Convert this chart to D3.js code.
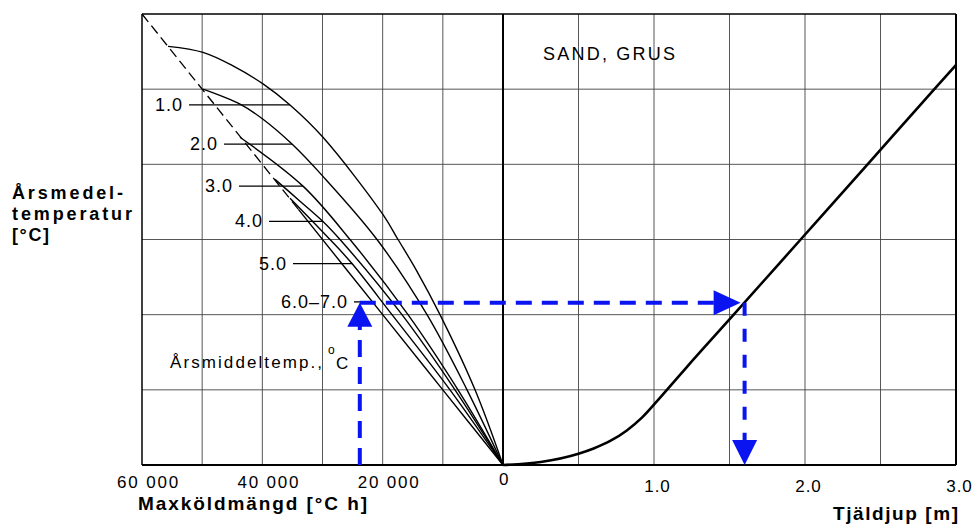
<!DOCTYPE html>
<html>
<head>
<meta charset="utf-8">
<script src="https://cdn.jsdelivr.net/npm/d3@7"></script>
<style>
body { margin: 0; background: #fff; }
text { font-family: "Liberation Sans", Arial, sans-serif; fill: #000; }
</style>
</head>
<body>
<script>
// left half: maxköldmängd [°C h] against the shared vertical (grid rows, no labels)
var curveNames = ['1.0', '2.0', '3.0', '4.0', '5.0', '6.0–7.0'];
var curve10 = [[55680,5.57],[49860,5.49],[44870,5.31],[39890,5.07],[35400,4.79],[29920,4.36],[19940,3.33],[17450,3.0],[14460,2.6],[10470,2.0],[4650,1.0],[0,0]];
var curve20 = [[49860,5.0],[43710,4.8],[39890,4.6],[35070,4.27],[29920,3.84],[20940,3.0],[12630,2.0],[5980,1.0],[0,0]];
var curve30 = [[43710,4.36],[33240,3.71],[25430,3.0],[15790,2.0],[7480,1.0],[0,0]];
var curve40 = [[37900,3.8],[33740,3.51],[29920,3.24],[27090,3.0],[16790,2.0],[7980,1.0],[0,0]];
var curve50 = [[35400,3.55],[28750,3.0],[25100,2.68],[18450,2.0],[8810,1.0],[0,0]];
var curve67 = [[34000,3.4],[20000,2.0],[10000,1.0],[0,0]];
var pointerY = [4.79, 4.27, 3.71, 3.24, 2.68, 2.17];
var dashedLine = [[60000,6],[34000,3.4]];

// right half: tjäldjup [m]
var depthCurve = [[0,0],[0.25,0.04],[0.5,0.15],[0.6,0.22],[0.71,0.32],[0.82,0.46],[0.92,0.63],[1.02,0.85],[1.12,1.08],[1.22,1.31],[1.51,1.96],[1.98,3.02],[2.41,3.99],[2.87,5.03],[3.0,5.32]];

var leftTicks = [60000, 40000, 20000, 0];
var leftTickLabels = ['60 000', '40 000', '20 000', '0'];
var rightTicks = [1, 2, 3];
var rightTickLabels = ['1.0', '2.0', '3.0'];

// the worked example (blue arrows)
var exFreeze = 23800;
var exLevel = 2.16;
var exDepth = 1.6;

var curves = [curve10, curve20, curve30, curve40, curve50, curve67];

var svg = d3.select('body').append('svg').attr('width', 972).attr('height', 527);

var xL = d3.scaleLinear().domain([60000, 0]).range([142, 503]);
var xR = d3.scaleLinear().domain([0, 3]).range([503, 956]);
var y = d3.scaleLinear().domain([0, 6]).range([465, 14]);

// grid
var grid = svg.append('g').attr('stroke', '#444').attr('stroke-width', 0.9);
grid.selectAll('.gl').data(d3.range(10000, 60000, 10000)).enter().append('line')
    .attr('x1', d => xL(d)).attr('x2', d => xL(d)).attr('y1', y(0)).attr('y2', y(6));
grid.selectAll('.gr').data(d3.range(0.5, 3, 0.5)).enter().append('line')
    .attr('x1', d => xR(d)).attr('x2', d => xR(d)).attr('y1', y(0)).attr('y2', y(6));
grid.selectAll('.gh').data(d3.range(1, 6)).enter().append('line')
    .attr('x1', xL(60000)).attr('x2', xR(3)).attr('y1', d => y(d)).attr('y2', d => y(d));

// frame
svg.append('line').attr('x1', xL(60000)).attr('x2', xR(3)).attr('y1', y(6)).attr('y2', y(6)).attr('stroke', '#000').attr('stroke-width', 1.5);
svg.append('line').attr('x1', xL(60000)).attr('x2', xL(60000)).attr('y1', y(6)).attr('y2', y(0)).attr('stroke', '#000').attr('stroke-width', 1.5);
svg.append('line').attr('x1', xR(3)).attr('x2', xR(3)).attr('y1', y(6)).attr('y2', y(0)).attr('stroke', '#000').attr('stroke-width', 2);
svg.append('line').attr('x1', xL(60000)).attr('x2', xR(3)).attr('y1', y(0)).attr('y2', y(0)).attr('stroke', '#000').attr('stroke-width', 2.2);
svg.append('line').attr('x1', xR(0)).attr('x2', xR(0)).attr('y1', y(6)).attr('y2', y(0)).attr('stroke', '#000').attr('stroke-width', 2);

// curves, left half
var lineL = d3.line().x(d => xL(d[0])).y(d => y(d[1])).curve(d3.curveCatmullRom.alpha(0.5));
svg.append('path').attr('d', d3.line().x(d => xL(d[0])).y(d => y(d[1]))(dashedLine))
    .attr('fill', 'none').attr('stroke', '#000').attr('stroke-width', 1.3).attr('stroke-dasharray', '10,5');
svg.selectAll('.curve').data(curves).enter().append('path')
    .attr('d', d => lineL(d)).attr('fill', 'none').attr('stroke', '#000').attr('stroke-width', 1.4);

// pointer lines and labels
function xAt(c, v) {
    for (var i = 0; i < c.length - 1; i++) {
        if (v <= c[i][1] && v >= c[i + 1][1]) {
            var t = (c[i][1] - v) / (c[i][1] - c[i + 1][1]);
            return c[i][0] + t * (c[i + 1][0] - c[i][0]);
        }
    }
    return c[0][0];
}
var labelEnd = [183, 218, 233, 263, 287, 348];
curveNames.forEach(function (name, i) {
    var py = y(pointerY[i]);
    svg.append('line').attr('x1', labelEnd[i] + 6).attr('x2', xL(xAt(curves[i], pointerY[i])))
        .attr('y1', py).attr('y2', py).attr('stroke', '#000').attr('stroke-width', 1.3);
    svg.append('text').attr('x', labelEnd[i]).attr('y', py + 6).attr('text-anchor', 'end')
        .attr('font-size', 18).attr('letter-spacing', 1).text(name);
});

// right curve
svg.append('path').attr('d', d3.line().x(d => xR(d[0])).y(d => y(d[1])).curve(d3.curveMonotoneX)(depthCurve))
    .attr('fill', 'none').attr('stroke', '#000').attr('stroke-width', 2.6);

// blue example arrows
var blue = '#0a14f0';
var bx = xL(exFreeze), by = y(exLevel), dx = xR(exDepth);
svg.append('line').attr('x1', bx).attr('x2', bx).attr('y1', y(0)).attr('y2', by + 22)
    .attr('stroke', blue).attr('stroke-width', 4).attr('stroke-dasharray', '17,10');
svg.append('path').attr('d', 'M' + bx + ',' + by + 'L' + (bx - 12.5) + ',' + (by + 24) + 'L' + (bx + 12.5) + ',' + (by + 24) + 'Z').attr('fill', blue);
svg.append('line').attr('x1', bx).attr('x2', dx - 30).attr('y1', by).attr('y2', by)
    .attr('stroke', blue).attr('stroke-width', 4).attr('stroke-dasharray', '16,10');
svg.append('path').attr('d', 'M' + (dx - 4) + ',' + by + 'L' + (dx - 31) + ',' + (by - 12.5) + 'L' + (dx - 31) + ',' + (by + 12.5) + 'Z').attr('fill', blue);
svg.append('line').attr('x1', dx).attr('x2', dx).attr('y1', by).attr('y2', y(0) - 23)
    .attr('stroke', blue).attr('stroke-width', 4).attr('stroke-dasharray', '13,13');
svg.append('path').attr('d', 'M' + dx + ',' + y(0) + 'L' + (dx - 12.5) + ',' + (y(0) - 25) + 'L' + (dx + 12.5) + ',' + (y(0) - 25) + 'Z').attr('fill', blue);

// axes (labels only)
var axL = svg.append('g').attr('transform', 'translate(0,' + y(0) + ')')
    .call(d3.axisBottom(xL).tickValues(leftTicks).tickFormat((d, i) => leftTickLabels[i]).tickSize(0));
axL.select('.domain').remove();
axL.selectAll('text').attr('font-family', '"Liberation Sans", Arial, sans-serif').attr('font-size', 17)
    .attr('letter-spacing', 1.8).attr('fill', '#000')
    .attr('dy', 0).attr('y', d => d === 0 ? 20 : 23).attr('dx', d => d === 0 ? 1 : 6);
var axR = svg.append('g').attr('transform', 'translate(0,' + y(0) + ')')
    .call(d3.axisBottom(xR).tickValues(rightTicks).tickFormat((d, i) => rightTickLabels[i]).tickSize(0));
axR.select('.domain').remove();
axR.selectAll('text').attr('font-family', '"Liberation Sans", Arial, sans-serif').attr('font-size', 17)
    .attr('letter-spacing', 1).attr('fill', '#000').attr('dy', 0).attr('y', 27).attr('dx', 3);

// texts
svg.append('text').attr('x', 543).attr('y', 60).attr('font-size', 18).attr('textLength', 132).text('SAND, GRUS');
var t = svg.append('text').attr('x', 170).attr('y', 368).attr('font-size', 17);
t.append('tspan').attr('textLength', 152).text('Årsmiddeltemp.,');
t.append('tspan').attr('x', 328).attr('y', 354).attr('font-size', 12).text('o');
t.append('tspan').attr('x', 336).attr('y', 369).text('C');

svg.append('text').attr('x', 12).attr('y', 199).attr('font-size', 18).attr('font-weight', 'bold').attr('textLength', 111).text('Årsmedel-');
svg.append('text').attr('x', 12).attr('y', 220).attr('font-size', 18).attr('font-weight', 'bold').attr('textLength', 120).text('temperatur');
svg.append('text').attr('x', 12).attr('y', 241).attr('font-size', 18).attr('font-weight', 'bold').attr('textLength', 37).text('[°C]');
svg.append('text').attr('x', 138).attr('y', 510).attr('font-size', 19).attr('font-weight', 'bold').attr('textLength', 229).text('Maxköldmängd [°C h]');
svg.append('text').attr('x', 833).attr('y', 520).attr('font-size', 19).attr('font-weight', 'bold').attr('textLength', 125).text('Tjäldjup [m]');
</script>
</body>
</html>
